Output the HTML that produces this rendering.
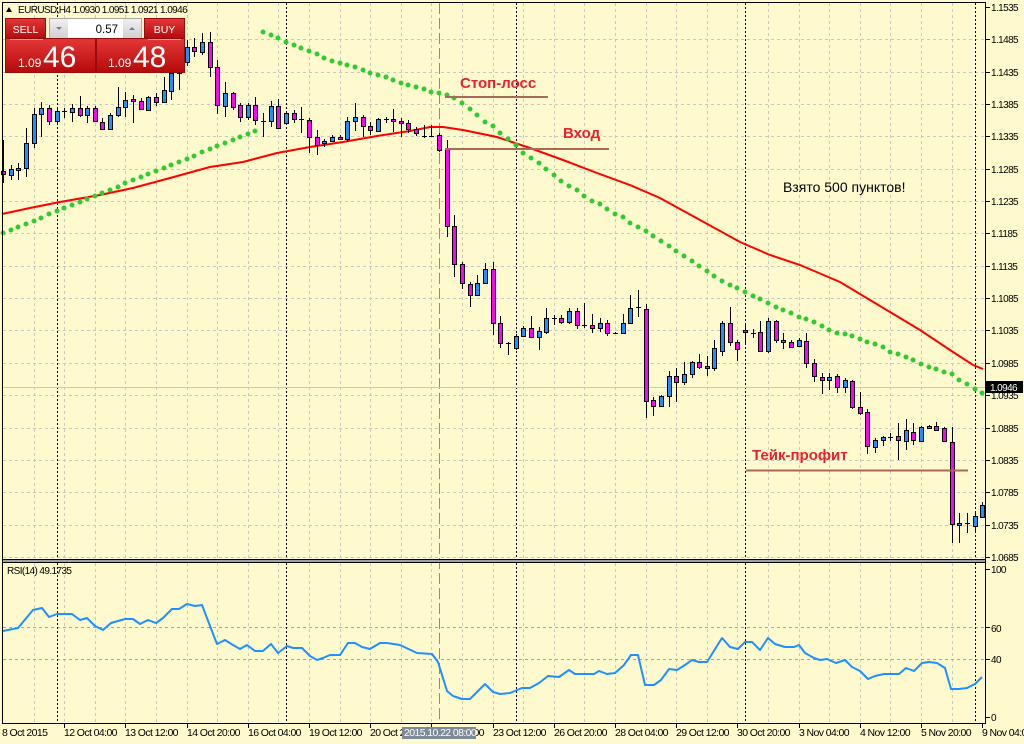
<!DOCTYPE html>
<html><head><meta charset="utf-8"><style>
html,body{margin:0;padding:0;background:#FEFACD;overflow:hidden}
svg{display:block}
text{font-family:"Liberation Sans",sans-serif}
</style></head><body>
<svg width="1024" height="744" viewBox="0 0 1024 744" xmlns="http://www.w3.org/2000/svg">
<defs>
<linearGradient id="rg" x1="0" y1="0" x2="0" y2="1"><stop offset="0" stop-color="#E43838"/><stop offset="1" stop-color="#B60A0A"/></linearGradient>
<linearGradient id="gb" x1="0" y1="0" x2="0" y2="1"><stop offset="0" stop-color="#F0F0F0"/><stop offset="1" stop-color="#D0D0D0"/></linearGradient>
</defs>
<rect width="1024" height="744" fill="#FEFACD"/>
<g stroke="#C8C8C8" stroke-dasharray="3 3" shape-rendering="crispEdges">
<path d="M3 39.5H985M3 72.5H985M3 104.5H985M3 136.5H985M3 169.5H985M3 201.5H985M3 233.5H985M3 266.5H985M3 298.5H985M3 330.5H985M3 363.5H985M3 395.5H985M3 428.5H985M3 460.5H985M3 492.5H985M3 525.5H985M3 557.5H985"/>
<path d="M34.5 3V559M64.5 3V559M95.5 3V559M125.5 3V559M156.5 3V559M187.5 3V559M217.5 3V559M248.5 3V559M278.5 3V559M309.5 3V559M340.5 3V559M370.5 3V559M401.5 3V559M431.5 3V559M462.5 3V559M493.5 3V559M523.5 3V559M554.5 3V559M584.5 3V559M615.5 3V559M646.5 3V559M676.5 3V559M707.5 3V559M737.5 3V559M768.5 3V559M799.5 3V559M829.5 3V559M860.5 3V559M890.5 3V559M921.5 3V559M952.5 3V559"/>
<path d="M34.5 563V723M64.5 563V723M95.5 563V723M125.5 563V723M156.5 563V723M187.5 563V723M217.5 563V723M248.5 563V723M278.5 563V723M309.5 563V723M340.5 563V723M370.5 563V723M401.5 563V723M431.5 563V723M462.5 563V723M493.5 563V723M523.5 563V723M554.5 563V723M584.5 563V723M615.5 563V723M646.5 563V723M676.5 563V723M707.5 563V723M737.5 563V723M768.5 563V723M799.5 563V723M829.5 563V723M860.5 563V723M890.5 563V723M921.5 563V723M952.5 563V723"/>
</g>
<path d="M3 627.5H985M3 659.5H985" stroke="#C89494" stroke-dasharray="3 3" shape-rendering="crispEdges"/>
<path d="M57.5 3V723M286.5 3V723M516.5 3V723M745.5 3V723M975.5 3V723" stroke="#000" stroke-dasharray="2 2" shape-rendering="crispEdges"/>
<path d="M439.5 3V723" stroke="#8C8C8C" stroke-dasharray="11 4" shape-rendering="crispEdges"/>
<path d="M3 387.5H985" stroke="#C8C8C8" shape-rendering="crispEdges"/>
<polyline fill="none" stroke="#FF0000" stroke-width="2" points="2,214 30,208 60,202 100,195 133,188 170,178 210,167 243,162 277,153 310,147 343,142 377,136 410,131 430,127 443,127 463,130 497,137 530,148 563,160 597,173 630,185 660,198 700,220 740,242 770,255 800,265 840,282 870,300 900,318 920,330 950,350 973,365 983,369"/>
<path fill="none" stroke="#2ECC2E" stroke-width="5" stroke-linecap="round" d="M3 233h0M11 230h0M18 227h0M26 224h0M34 221h0M41 218h0M49 214h0M57 211h0M64 208h0M72 205h0M80 202h0M87 199h0M95 196h0M102 193h0M110 190h0M118 187h0M125 183h0M133 180h0M141 177h0M148 174h0M156 171h0M164 168h0M171 165h0M179 162h0M187 159h0M194 156h0M202 152h0M210 149h0M217 146h0M225 143h0M233 140h0M240 137h0M248 134h0M255 131h0M263 32h0M271 35h0M278 38h0M286 42h0M294 45h0M301 48h0M309 51h0M317 54h0M324 58h0M332 61h0M340 63h0M347 65h0M355 67h0M363 70h0M370 73h0M378 75h0M386 77h0M393 80h0M401 83h0M408 85h0M416 87h0M424 89h0M431 92h0M439 93h0M447 95h0M454 98h0M462 103h0M470 109h0M477 115h0M485 122h0M493 126h0M500 133h0M508 139h0M516 145h0M523 153h0M531 158h0M539 163h0M546 169h0M554 175h0M561 181h0M569 186h0M577 190h0M584 196h0M592 201h0M600 204h0M607 209h0M615 214h0M623 217h0M630 223h0M638 227h0M646 231h0M653 236h0M661 241h0M669 246h0M676 251h0M684 256h0M692 261h0M699 266h0M707 271h0M714 276h0M722 281h0M730 285h0M737 288h0M745 292h0M753 296h0M760 299h0M768 303h0M776 307h0M783 310h0M791 313h0M799 317h0M806 319h0M814 322h0M822 326h0M829 330h0M837 333h0M845 334h0M852 336h0M860 339h0M867 342h0M875 344h0M883 347h0M890 352h0M898 354h0M906 357h0M913 360h0M921 364h0M929 367h0M936 369h0M944 372h0M952 374h0M959 380h0M967 384h0M975 389h0M982 393h0"/>
<path stroke="#000" fill="none" shape-rendering="crispEdges" d="M3.5 140V183M11.5 165V180M18.5 163V180M26.5 128V177M34.5 108V148M41.5 102V137M49.5 105V125M57.5 107V124M64.5 108V118M72.5 104V122M80.5 96V117M87.5 106V123M95.5 106V122M102.5 118V130M110.5 113V129M118.5 87V117M125.5 92V117M133.5 95V123M141.5 98V110M148.5 96V110M156.5 93V106M164.5 77V102M171.5 62V100M179.5 55V90M187.5 40V66M194.5 38V57M202.5 33V55M210.5 32V77M217.5 60V114M225.5 82V117M233.5 92V110M240.5 103V122M248.5 103V120M255.5 97V125M263.5 113V137M271.5 101V127M278.5 99V128M286.5 111V125M294.5 110V123M301.5 107V133M309.5 118V153M317.5 130V155M324.5 139V147M332.5 135V142M340.5 135V140M347.5 117V142M355.5 103V131M363.5 115V137M370.5 122V135M378.5 118V132M386.5 117V123M393.5 109V132M401.5 118V137M408.5 120V133M416.5 127V136M424.5 125V138M431.5 125V137M439.5 133V152M447.5 140V237M454.5 215V277M462.5 262V289M470.5 282V307M477.5 275V295M485.5 263V283M493.5 262V335M500.5 316V348M508.5 342V355M516.5 334V350M523.5 326V337M531.5 316V338M539.5 327V350M546.5 308V334M554.5 315V325M561.5 315V324M569.5 308V324M577.5 308V329M584.5 303V328M592.5 314V333M600.5 318V332M607.5 320V336M615.5 332V334M623.5 314V334M630.5 295V324M638.5 290V317M646.5 304V418M653.5 397V416M661.5 395V407M669.5 371V407M676.5 368V402M684.5 362V385M692.5 361V378M699.5 354V369M707.5 356V376M714.5 340V371M722.5 321V356M730.5 307V346M737.5 340V361M745.5 325V343M753.5 329V338M760.5 321V351M768.5 318V353M776.5 320V343M783.5 333V349M791.5 340V348M799.5 338V347M806.5 333V368M814.5 359V382M822.5 373V394M829.5 373V390M837.5 374V393M845.5 378V393M852.5 380V409M860.5 392V415M867.5 409V454M875.5 438V453M883.5 436V446M890.5 433V441M898.5 423V460M906.5 419V450M913.5 423V445M921.5 426V442M929.5 425V429M936.5 422V431M944.5 427V442M952.5 427V543M959.5 513V543M967.5 513V533M975.5 513V533M982.5 502V518"/>
<path fill="#FF00FF" stroke="#000" shape-rendering="crispEdges" d="M1.5 171.5h4v3h-4zM47.5 108.5h4v13h-4zM78.5 108.5h4v7h-4zM93.5 108.5h4v13h-4zM100.5 122.5h4v7h-4zM131.5 99.5h4v2h-4zM139.5 101.5h4v8h-4zM154.5 97.5h4v5h-4zM192.5 47.5h4v4h-4zM208.5 42.5h4v25h-4zM215.5 67.5h4v38h-4zM231.5 93.5h4v14h-4zM238.5 105.5h4v12h-4zM253.5 105.5h4v15h-4zM276.5 106.5h4v22h-4zM292.5 113.5h4v6h-4zM307.5 120.5h4v17h-4zM315.5 137.5h4v8h-4zM338.5 137.5h4v2h-4zM361.5 117.5h4v9h-4zM368.5 126.5h4v4h-4zM391.5 119.5h4v2h-4zM399.5 121.5h4v2h-4zM406.5 123.5h4v6h-4zM414.5 129.5h4v4h-4zM437.5 135.5h4v15h-4zM445.5 149.5h4v77h-4zM452.5 226.5h4v38h-4zM460.5 264.5h4v19h-4zM468.5 284.5h4v11h-4zM491.5 269.5h4v54h-4zM498.5 323.5h4v20h-4zM529.5 328.5h4v9h-4zM559.5 318.5h4v4h-4zM575.5 311.5h4v14h-4zM590.5 325.5h4v3h-4zM605.5 323.5h4v10h-4zM644.5 309.5h4v92h-4zM651.5 400.5h4v6h-4zM674.5 376.5h4v6h-4zM697.5 362.5h4v5h-4zM705.5 366.5h4v2h-4zM728.5 323.5h4v19h-4zM735.5 342.5h4v7h-4zM743.5 330.5h4v2h-4zM758.5 332.5h4v19h-4zM774.5 321.5h4v19h-4zM781.5 340.5h4v2h-4zM789.5 342.5h4v5h-4zM804.5 341.5h4v22h-4zM812.5 363.5h4v13h-4zM820.5 377.5h4v3h-4zM835.5 376.5h4v11h-4zM850.5 381.5h4v26h-4zM858.5 407.5h4v6h-4zM865.5 412.5h4v34h-4zM896.5 436.5h4v4h-4zM911.5 432.5h4v8h-4zM934.5 426.5h4v4h-4zM942.5 428.5h4v13h-4zM950.5 442.5h4v82h-4z"/>
<path fill="#1E90FF" stroke="#000" shape-rendering="crispEdges" d="M9.5 169.5h4v6h-4zM16.5 168.5h4v2h-4zM24.5 143.5h4v25h-4zM32.5 114.5h4v29h-4zM39.5 108.5h4v6h-4zM55.5 111.5h4v10h-4zM70.5 108.5h4v4h-4zM85.5 108.5h4v7h-4zM108.5 115.5h4v14h-4zM116.5 107.5h4v8h-4zM123.5 100.5h4v7h-4zM146.5 97.5h4v13h-4zM162.5 90.5h4v12h-4zM169.5 73.5h4v18h-4zM177.5 60.5h4v13h-4zM185.5 47.5h4v15h-4zM200.5 42.5h4v10h-4zM223.5 93.5h4v13h-4zM246.5 105.5h4v12h-4zM269.5 106.5h4v15h-4zM284.5 113.5h4v10h-4zM322.5 141.5h4v2h-4zM330.5 137.5h4v4h-4zM345.5 121.5h4v18h-4zM353.5 117.5h4v4h-4zM376.5 119.5h4v12h-4zM475.5 283.5h4v12h-4zM483.5 269.5h4v14h-4zM514.5 336.5h4v12h-4zM521.5 328.5h4v8h-4zM537.5 331.5h4v6h-4zM544.5 318.5h4v14h-4zM567.5 311.5h4v11h-4zM598.5 323.5h4v5h-4zM621.5 323.5h4v10h-4zM628.5 308.5h4v15h-4zM659.5 396.5h4v10h-4zM667.5 376.5h4v20h-4zM682.5 374.5h4v8h-4zM690.5 362.5h4v12h-4zM712.5 348.5h4v20h-4zM720.5 323.5h4v28h-4zM766.5 321.5h4v30h-4zM797.5 340.5h4v6h-4zM827.5 377.5h4v3h-4zM843.5 380.5h4v7h-4zM873.5 440.5h4v7h-4zM881.5 437.5h4v3h-4zM904.5 430.5h4v11h-4zM919.5 427.5h4v14h-4zM927.5 426.5h4v2h-4zM957.5 523.5h4v2h-4zM973.5 516.5h4v10h-4zM980.5 505.5h4v12h-4z"/>
<path stroke="#000" shape-rendering="crispEdges" d="M62 111.5h5M261 121.5h5M299 119.5h5M384 119.5h5M422 136.5h5M429 136.5h5M506 343.5h5M552 318.5h5M582 325.5h5M613 333.5h5M636 307.5h5M751 333.5h5M888 437.5h5M965 523.5h5"/>
<path stroke="#A86A56" stroke-width="2" d="M445 97H548M445 149H609M746 470.5H968"/>
<g fill="#E82030" font-weight="bold" font-size="15">
<text x="460" y="88">Стоп-лосс</text>
<text x="563" y="138">Вход</text>
<text x="752" y="460">Тейк-профит</text>
</g>
<text x="783" y="192" font-size="14" fill="#000">Взято 500 пунктов!</text>
<polyline fill="none" stroke="#1E90FF" stroke-width="2" stroke-linejoin="round" points="3,631 18,628 33,610 42,608 49,617 57,614 67,614 72,614 80,620 87,618 95,626 103,630 111,623 125,619 133,619 140,624 148,620 156,623 163,618 172,609 179,609 187,604 195,606 202,605 210,626 217,644 225,640 233,645 240,649 247,645 255,651 263,651 271,644 278,653 287,646 293,648 302,648 310,656 317,660 323,658 330,655 340,655 348,643 355,643 362,647 370,649 380,643 387,643 400,645 417,653 432,654 438,662 447,691 453,696 462,699 470,699 477,692 485,684 493,692 500,694 510,693 522,688 530,688 539,683 548,676 559,677 569,670 575,674 585,674 594,674 599,671 607,674 615,673 624,665 631,655 638,655 645,685 654,685 661,680 669,669 677,670 685,665 692,660 699,662 707,662 722,638 730,647 738,649 745,642 752,642 760,650 768,638 775,644 785,647 794,647 799,645 805,653 814,658 820,660 827,659 836,663 845,660 852,667 860,671 868,679 875,676 884,674 892,674 899,674 906,668 914,671 922,663 929,662 937,663 945,668 951,689 959,689 967,688 975,684 982,677"/>
<text x="7" y="574" font-size="10" letter-spacing="-0.6" fill="#000">RSI(14) 49.1735</text>
<rect x="2" y="560" width="984" height="2" fill="#A0A0A0"/>
<path stroke="#000" fill="none" shape-rendering="crispEdges" d="M2.5 2V724M985.5 2V724M2 2.5H986M2 559.5H986M2 562.5H986M2 723.5H986"/>
<path stroke="#000" shape-rendering="crispEdges" d="M986 7.5h4M986 39.5h4M986 72.5h4M986 104.5h4M986 136.5h4M986 169.5h4M986 201.5h4M986 233.5h4M986 266.5h4M986 298.5h4M986 330.5h4M986 363.5h4M986 395.5h4M986 428.5h4M986 460.5h4M986 492.5h4M986 525.5h4M986 557.5h4M986 569.5h4M986 627.5h4M986 659.5h4M986 717.5h4M64.5 724v4M125.5 724v4M187.5 724v4M248.5 724v4M309.5 724v4M370.5 724v4M431.5 724v4M493.5 724v4M554.5 724v4M615.5 724v4M676.5 724v4M737.5 724v4M799.5 724v4M860.5 724v4M921.5 724v4M982.5 724v4"/>
<g font-size="10" letter-spacing="-0.6" fill="#000">
<text x="991" y="11">1.1535</text><text x="991" y="43">1.1485</text><text x="991" y="76">1.1435</text><text x="991" y="108">1.1385</text><text x="991" y="140">1.1335</text><text x="991" y="173">1.1285</text><text x="991" y="205">1.1235</text><text x="991" y="237">1.1185</text><text x="991" y="270">1.1135</text><text x="991" y="302">1.1085</text><text x="991" y="334">1.1035</text><text x="991" y="367">1.0985</text><text x="991" y="399">1.0935</text><text x="991" y="432">1.0885</text><text x="991" y="464">1.0835</text><text x="991" y="496">1.0785</text><text x="991" y="529">1.0735</text><text x="991" y="561">1.0685</text>
<text x="991" y="573">100</text><text x="991" y="632">60</text><text x="991" y="663">40</text><text x="991" y="721">0</text>
</g>
<rect x="986" y="381" width="37" height="12" fill="#000"/>
<text x="990" y="391" font-size="10" letter-spacing="-0.6" fill="#fff">1.0946</text>
<g font-size="10.5" letter-spacing="-0.6" fill="#000">
<text x="2" y="736">8 Oct 2015</text><text x="64" y="736">12 Oct 04:00</text><text x="125" y="736">13 Oct 12:00</text><text x="187" y="736">14 Oct 20:00</text><text x="248" y="736">16 Oct 04:00</text><text x="309" y="736">19 Oct 12:00</text><text x="370" y="736">20 Oct 20:00</text><text x="431" y="736">22 Oct 04:00</text><text x="493" y="736">23 Oct 12:00</text><text x="554" y="736">26 Oct 20:00</text><text x="615" y="736">28 Oct 04:00</text><text x="676" y="736">29 Oct 12:00</text><text x="737" y="736">30 Oct 20:00</text><text x="799" y="736">3 Nov 04:00</text><text x="860" y="736">4 Nov 12:00</text><text x="921" y="736">5 Nov 20:00</text><text x="982" y="736">9 Nov 04:00</text>
</g>
<rect x="402" y="727" width="74" height="12" fill="#7E8A98"/>
<text x="404" y="736" font-size="10.5" letter-spacing="-0.6" fill="#fff">2015.10.22 08:00</text>
<polygon points="6,12 9,7 12,12" fill="#000"/>
<text x="18" y="13" font-size="10" letter-spacing="-0.6" fill="#000">EURUSD,H4  1.0930 1.0951 1.0921 1.0946</text>
<rect x="5.5" y="18.5" width="40" height="20" fill="url(#rg)" stroke="#9A0C0C"/>
<text x="25.5" y="33" font-size="10.5" fill="#fff" text-anchor="middle">SELL</text>
<rect x="144.5" y="18.5" width="40" height="20" fill="url(#rg)" stroke="#9A0C0C"/>
<text x="164.5" y="33" font-size="10.5" fill="#fff" text-anchor="middle">BUY</text>
<rect x="49.5" y="18.5" width="92" height="20" fill="#fff" stroke="#A8A8A8"/>
<rect x="50" y="19" width="18" height="19" fill="url(#gb)"/>
<rect x="123" y="19" width="18" height="19" fill="url(#gb)"/>
<polygon points="56,27 62,27 59,30" fill="#6A7F99"/>
<polygon points="129,30 135,30 132,27" fill="#6A7F99"/>
<text x="118" y="33" font-size="11.5" fill="#000" text-anchor="end">0.57</text>
<rect x="5.5" y="38.5" width="90" height="34" fill="url(#rg)" stroke="#9A0C0C"/>
<rect x="96.5" y="38.5" width="88" height="34" fill="url(#rg)" stroke="#9A0C0C"/>
<path d="M10 39.5H43M148 39.5H181" stroke="#F19A9A"/>
<text x="18" y="67" font-size="12" fill="#fff">1.09</text>
<text x="43" y="67" font-size="30" fill="#fff">46</text>
<text x="108" y="67" font-size="12" fill="#fff">1.09</text>
<text x="133" y="67" font-size="30" fill="#fff">48</text>
</svg>
</body></html>
